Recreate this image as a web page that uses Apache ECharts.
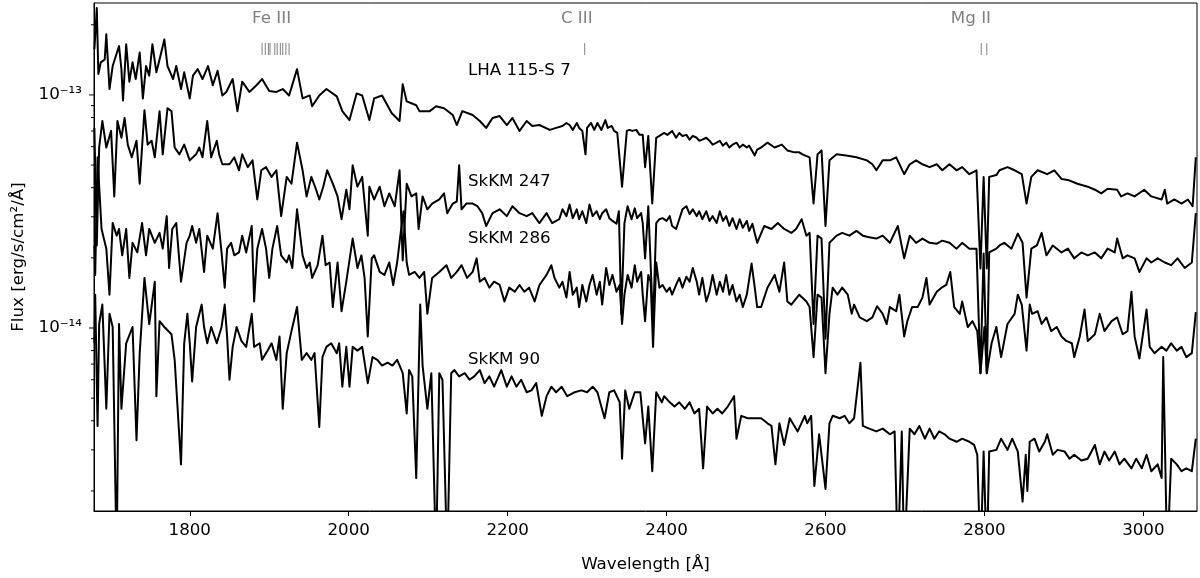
<!DOCTYPE html>
<html>
<head>
<meta charset="utf-8">
<title>UV spectra</title>
<script src="https://cdn.jsdelivr.net/npm/echarts@6/dist/echarts.min.js"></script>
<style>
  html, body { margin: 0; padding: 0; background: #fff; }
  #chart { width: 1200px; height: 578px; }
</style>
</head>
<body>
<div id="chart"></div>
<script>
// wavelength in Angstrom, flux in units of 1e-14 erg/s/cm2/A
const FLUX_UNIT = 1e-14;

const lha115s7 = [
  [1680,15.7],[1683,23.6],[1685,12.3],[1688,13.8],[1693,14.2],[1695,18.2],[1699,10.6],[1703,13.3],[1707,14.7],[1711,16.2],
  [1714,12.9],[1716,9.47],[1720,16.5],[1724,11.4],[1728,13.8],[1732,11.7],[1737,15.2],[1741,9.66],[1745,13.3],[1749,12.1],
  [1753,16.5],[1758,12.5],[1762,14.2],[1768,17.3],[1772,13.3],[1779,11.7],[1783,13.3],[1789,10.6],[1793,12.5],[1800,9.66],
  [1804,12.1],[1810,12.9],[1816,11.7],[1823,13.3],[1829,11.0],[1835,12.7],[1841,9.95],[1846,10.3],
  [1854,11.7],[1860,8.52],[1866,11.4],[1875,10.3],[1884,11.0],[1891,11.7],[1900,10.4],[1909,10.3],[1917,10.6],[1925,9.95],
  [1935,12.9],[1942,9.66],[1951,9.95],[1954,8.94],[1963,9.95],[1972,10.6],[1985,9.86],[1992,8.52],[2001,7.80],[2010,10.15],
  [2017,9.95],[2026,7.80],[2032,9.66],[2042,9.95],[2054,8.36],[2064,7.73],[2068,11.1],[2073,9.38],[2085,9.03],[2089,8.52],
  [2102,8.52],[2110,8.94],[2120,8.77],[2131,8.20],[2136,7.43],[2143,8.52],[2156,8.20],[2165,7.73],[2173,7.22],[2181,7.96],
  [2190,8.12],[2199,7.43],[2206,7.96],[2215,7.01],[2224,7.73],[2231,7.36],[2240,7.43],[2253,7.08],[2261,7.22],
  [2269,7.36],[2274,7.58],[2278,7.43],[2282,7.08],[2287,7.58],[2290,7.22],[2294,7.01],[2298,5.56],[2300,7.22],[2305,7.58],
  [2309,7.08],[2313,7.58],[2318,7.08],[2323,7.80],[2326,7.22],[2331,7.36],[2334,7.01],[2338,6.87],[2344,4.04],[2350,7.01],
  [2353,7.08],[2357,7.01],[2362,7.08],[2366,6.74],[2370,6.74],[2373,4.90],[2377,6.67],[2382,3.42],[2387,6.55],[2391,6.67],
  [2397,6.87],[2401,6.74],[2407,7.01],[2412,6.55],[2416,6.87],[2420,6.67],[2425,6.74],[2429,6.43],[2433,6.67],[2438,6.55],
  [2441,6.36],[2445,6.43],[2450,6.55],[2454,6.36],[2458,6.12],[2463,6.24],[2467,6.36],[2471,6.06],[2475,6.24],[2479,5.95],
  [2483,6.12],[2488,6.24],[2492,5.95],[2496,6.12],[2501,5.95],[2504,6.06],[2511,5.50],[2514,5.83],
  [2519,5.95],[2527,6.24],[2536,5.95],[2545,6.12],[2552,5.78],[2561,5.67],[2567,5.67],[2571,5.56],[2580,5.40],
  [2585,3.42],[2590,5.56],[2595,5.78],[2600,2.74],[2605,5.24],[2614,5.56],[2626,5.50],[2639,5.40],[2652,5.24],[2659,5.04],
  [2664,4.75],[2672,5.24],[2681,5.24],[2689,5.40],[2699,4.57],[2706,5.04],[2714,5.24],[2722,5.04],[2731,4.90],[2740,5.04],
  [2747,4.75],[2756,5.04],[2765,4.75],[2772,4.90],[2781,4.57],[2790,4.75],[2795,1.8],[2799,4.45],[2803,1.8],[2806,4.45],
  [2815,4.53],[2819,4.75],[2829,4.90],[2838,4.75],[2847,4.57],[2853,3.42],[2859,4.45],[2867,4.75],[2879,4.57],[2888,4.75],
  [2897,4.36],[2905,4.32],[2917,4.16],[2930,4.04],[2939,3.92],[2947,3.78],[2955,3.96],[2967,3.92],[2972,3.67],[2980,3.78],
  [2989,3.67],[3001,3.92],[3010,3.67],[3023,3.56],[3027,3.92],[3030,3.42],[3039,3.56],[3048,3.42],[3056,3.56],[3062,3.33],
  [3066,5.40]
];

const skkm247 = [
  [1680,7.22],[1683,2.26],[1686,5.95],[1690,7.73],[1695,5.95],[1701,7.01],[1705,3.67],[1709,7.73],[1714,6.55],[1718,7.96],
  [1722,6.12],[1727,5.40],[1733,6.36],[1737,4.16],[1743,8.6],[1747,6.12],[1752,6.36],[1756,5.40],[1762,8.52],[1766,5.56],
  [1772,8.77],[1777,8.52],[1781,5.95],[1787,5.56],[1793,6.12],[1800,5.24],[1808,5.56],[1812,5.95],[1816,5.40],[1822,7.73],
  [1827,5.40],[1834,6.36],[1837,5.56],[1841,5.04],[1850,5.04],[1856,5.40],[1862,4.75],[1866,5.56],[1873,4.90],[1879,5.24],
  [1885,3.56],[1890,4.75],[1896,4.90],[1903,4.45],[1909,4.75],[1915,3.02],[1922,4.45],[1928,4.16],[1935,6.24],[1942,4.75],
  [1947,3.67],[1953,4.45],[1959,3.92],[1963,3.56],[1968,4.04],[1973,4.75],[1980,4.16],[1986,3.67],[1991,2.93],[1997,3.92],
  [2001,3.23],[2005,4.99],[2011,4.04],[2017,4.45],[2024,2.49],[2026,4.04],[2032,3.56],[2039,4.04],[2045,3.33],[2051,3.78],
  [2058,3.33],[2064,4.75],[2068,1.95],[2073,4.16],[2079,3.67],[2085,3.78],[2088,2.66],[2093,3.67],[2099,3.23],[2105,3.42],
  [2114,3.56],[2120,3.78],[2124,3.11],[2131,3.42],[2136,3.49],[2139,4.99],[2142,3.23],[2148,3.42],[2156,3.42],[2162,3.33],
  [2168,3.11],[2173,2.74],[2181,3.11],[2190,3.23],[2199,3.02],[2206,3.33],[2215,3.11],[2224,3.02],[2231,3.11],[2240,2.82],
  [2249,3.11],[2256,2.82],
  [2265,2.93],[2269,3.23],[2274,3.02],[2278,3.39],[2282,2.96],[2287,3.23],[2290,2.93],[2294,3.17],[2299,2.82],[2303,3.39],
  [2307,3.02],[2312,3.17],[2316,2.93],[2319,3.11],[2324,3.23],[2328,2.96],[2332,2.88],[2337,2.80],[2340,3.17],[2343,1.15],
  [2347,2.82],[2351,3.33],[2356,2.93],[2360,3.26],[2363,2.96],[2368,3.11],[2370,2.82],[2373,1.99],[2377,3.33],[2383,1.04],
  [2387,2.82],[2391,2.93],[2395,2.96],[2400,2.88],[2404,3.02],[2407,2.74],[2412,2.66],[2416,2.93],[2420,3.23],[2425,3.33],
  [2429,3.08],[2433,3.23],[2438,3.02],[2441,3.17],[2445,2.93],[2450,3.17],[2454,2.88],[2458,3.02],[2463,2.82],[2467,3.17],
  [2471,2.88],[2475,3.02],[2479,2.74],[2483,2.96],[2488,2.66],[2492,2.93],[2496,2.69],[2501,2.88],[2504,2.61],[2508,2.80],
  [2514,2.32],
  [2523,2.74],[2532,2.66],[2540,2.82],[2548,2.66],[2557,2.56],[2563,2.66],[2570,2.93],[2576,2.49],[2580,2.56],[2585,1.04],[2590,2.49],
  [2595,2.42],[2600,0.90],[2605,2.32],[2614,2.49],[2621,2.56],[2630,2.49],[2639,2.61],[2647,2.49],[2655,2.45],[2664,2.42],
  [2672,2.49],[2681,2.32],[2691,2.74],[2699,1.99],[2706,2.49],[2714,2.32],[2722,2.42],[2731,2.32],[2740,2.30],[2747,2.37],
  [2756,2.32],[2765,2.19],[2772,2.32],[2781,2.19],[2790,2.19],[2795,0.64],[2799,2.09],[2803,0.64],[2806,2.11],[2815,2.19],
  [2819,2.26],[2825,2.32],[2834,2.19],[2842,2.54],[2848,2.32],[2853,1.35],[2859,2.19],[2866,2.26],[2872,2.56],[2878,2.05],
  [2886,2.26],[2897,2.11],[2905,2.19],[2913,1.99],[2922,2.11],[2930,2.05],[2939,2.11],[2947,1.99],[2955,2.19],[2964,2.11],
  [2967,2.42],[2974,1.99],[2980,2.05],[2989,1.99],[2995,1.74],[3004,1.99],[3010,1.91],[3018,1.99],[3027,1.91],[3035,1.86],
  [3043,1.99],[3052,1.81],[3061,1.91],[3066,3.11]
];

const skkm286 = [
  [1680,2.26],[1681,1.69],[1684,5.40],[1689,2.66],[1695,2.19],[1699,1.39],[1703,2.82],[1708,2.49],[1711,2.66],[1715,2.05],
  [1720,2.66],[1724,1.64],[1728,2.32],[1734,2.11],[1740,2.82],[1745,2.05],[1749,2.66],[1756,2.32],[1762,2.56],[1766,2.19],
  [1771,3.02],[1774,1.81],[1778,2.66],[1783,2.82],[1789,1.58],[1796,2.32],[1800,2.49],[1803,2.74],[1808,2.32],[1812,2.66],
  [1818,1.74],[1822,2.49],[1829,2.19],[1835,3.11],[1840,2.11],[1844,1.49],[1847,2.19],[1852,2.32],[1856,2.05],[1862,2.11],
  [1866,2.49],[1871,2.11],[1878,2.74],[1881,1.30],[1885,2.19],[1891,2.66],[1896,2.19],[1900,1.64],[1904,2.19],[1910,2.74],
  [1915,2.05],[1922,1.91],[1925,2.05],[1929,1.81],[1935,3.23],[1942,2.05],[1947,1.81],[1951,1.91],[1954,1.64],[1961,1.86],
  [1967,2.49],[1971,1.86],[1976,1.91],[1980,1.23],[1986,1.91],[1991,1.18],[1997,1.58],[2005,2.42],[2011,1.81],[2016,2.05],
  [2020,1.64],[2024,0.92],[2029,1.99],[2032,2.05],[2039,1.74],[2045,1.69],[2051,1.91],[2056,1.53],[2061,1.91],[2065,2.49],
  [2069,3.17],[2073,1.91],[2076,1.69],[2083,1.74],[2089,1.64],[2095,1.74],[2099,1.15],[2105,1.64],[2114,1.74],[2123,1.86],
  [2129,1.64],[2136,1.74],[2142,1.86],[2149,1.64],[2156,1.74],[2161,1.99],[2165,1.58],[2171,1.64],[2177,1.49],[2183,1.58],
  [2190,1.53],[2196,1.30],[2202,1.49],[2209,1.43],[2215,1.53],[2221,1.43],[2227,1.49],[2234,1.30],[2240,1.53],[2249,1.69],
  [2255,1.86],[2259,1.64],
  [2265,1.49],[2269,1.58],[2274,1.35],[2278,1.74],[2282,1.39],[2287,1.49],[2290,1.23],[2294,1.53],[2299,1.30],[2303,1.53],
  [2307,1.69],[2312,1.39],[2316,1.58],[2319,1.26],[2324,1.81],[2328,1.53],[2332,1.69],[2337,1.43],[2341,1.53],[2344,1.04],
  [2347,1.39],[2351,1.69],[2356,1.49],[2360,1.86],[2363,1.58],[2368,1.74],[2370,1.39],[2373,1.07],[2377,1.69],[2380,1.58],
  [2383,0.83],[2387,1.91],[2391,1.49],[2395,1.53],[2400,1.43],[2404,1.49],[2407,1.39],[2412,1.53],[2416,1.64],[2420,1.49],
  [2425,1.66],[2429,1.58],[2433,1.81],[2438,1.58],[2441,1.39],[2445,1.64],[2450,1.30],[2454,1.43],[2458,1.69],[2463,1.39],
  [2467,1.58],[2471,1.43],[2475,1.69],[2479,1.39],[2483,1.53],[2488,1.30],[2492,1.39],[2496,1.23],[2501,1.39],[2507,1.89],
  [2511,1.49],[2514,1.23],
  [2519,1.23],[2527,1.49],[2536,1.69],[2542,1.43],[2548,1.91],[2552,1.30],
  [2557,1.26],[2567,1.39],[2576,1.30],[2580,1.23],[2585,0.75],[2590,1.39],[2595,1.35],[2600,0.64],[2605,1.15],[2609,1.49],
  [2615,1.39],[2621,1.49],[2628,1.39],[2633,1.15],[2636,1.26],[2643,1.11],[2652,1.07],[2659,1.11],[2665,1.24],[2672,1.15],
  [2677,1.04],[2681,1.23],[2689,1.18],[2693,1.39],[2699,0.92],[2703,1.07],[2709,1.23],[2716,1.23],[2722,1.35],[2727,1.64],
  [2731,1.26],[2740,1.43],[2746,1.49],[2752,1.53],[2757,1.74],[2762,1.23],[2769,1.15],[2772,1.30],[2779,1.01],[2785,1.07],
  [2791,0.97],[2795,0.64],[2800,1.01],[2803,0.64],[2809,0.86],[2815,1.01],[2821,0.75],[2829,1.04],[2838,1.15],[2842,1.39],
  [2847,1.26],[2853,0.80],[2857,1.26],[2860,1.15],[2867,1.18],[2872,1.04],[2878,1.11],[2884,0.97],[2891,1.01],[2897,0.92],
  [2903,0.88],[2910,0.86],[2913,0.75],[2920,0.92],[2926,1.20],[2930,0.88],[2939,0.94],[2945,1.15],[2951,0.97],[2960,1.07],
  [2967,1.11],[2974,0.94],[2980,0.97],[2985,1.43],[2989,0.92],[2995,0.74],[3004,1.20],[3008,0.83],[3014,0.78],[3023,0.83],
  [3029,0.80],[3035,0.86],[3042,0.80],[3048,0.83],[3054,0.75],[3061,0.78],[3066,1.17]
];

const skkm90 = [
  [1680,0.86],[1681,1.39],[1684,0.38],[1686,1.04],[1690,1.26],[1695,0.45],[1699,1.15],[1703,1.01],[1708,0.1],[1711,1.04],
  [1714,0.45],[1720,0.86],[1728,1.01],[1733,0.33],[1737,0.78],[1743,1.64],[1749,1.04],[1756,1.58],[1758,0.51],[1762,1.07],
  [1768,1.01],[1777,0.94],[1781,0.73],[1789,0.26],[1793,0.86],[1797,1.15],[1800,0.86],[1803,0.59],[1808,1.01],[1815,1.26],
  [1818,1.01],[1822,0.86],[1827,1.01],[1834,0.86],[1840,1.01],[1844,1.26],[1847,0.92],[1850,0.60],[1854,0.83],[1859,1.01],
  [1865,0.88],[1871,0.83],[1878,1.15],[1881,0.83],[1888,0.86],[1891,0.73],[1898,0.80],[1903,0.86],[1909,0.73],[1913,0.92],
  [1917,0.45],[1922,0.78],[1928,0.97],[1935,1.23],[1941,0.73],[1947,0.78],[1953,0.73],[1957,0.78],[1963,0.376],[1967,0.75],
  [1972,0.83],[1978,0.86],[1985,0.78],[1988,0.86],[1992,0.56],[1997,0.83],[2001,0.56],[2005,0.83],[2011,0.80],[2017,0.83],
  [2024,0.58],[2030,0.75],[2036,0.73],[2042,0.69],[2049,0.71],[2055,0.69],[2061,0.73],[2068,0.64],[2073,0.43],[2076,0.66],
  [2080,0.62],[2085,0.227],[2090,1.26],[2093,0.69],[2099,0.45],[2104,0.64],[2110,0.1],[2114,0.64],[2118,0.60],[2124,0.1],
  [2129,0.64],[2133,0.66],[2139,0.62],[2146,0.64],[2152,0.60],[2158,0.62],[2165,0.66],[2171,0.58],[2177,0.62],[2183,0.56],
  [2192,0.66],[2199,0.56],[2205,0.62],[2211,0.56],[2217,0.60],[2224,0.53],[2230,0.54],[2236,0.58],[2243,0.42],[2249,0.51],
  [2255,0.56],[2261,0.53],[2268,0.56],[2275,0.51],[2284,0.53],[2293,0.54],[2300,0.53],[2307,0.56],[2313,0.53],[2322,0.41],
  [2328,0.53],[2334,0.54],[2341,0.48],[2344,0.275],[2348,0.54],[2353,0.45],[2360,0.53],[2367,0.53],[2373,0.32],[2377,0.46],
  [2382,0.243],[2387,0.53],[2394,0.48],[2397,0.51],[2404,0.48],[2410,0.46],[2416,0.48],[2423,0.45],[2429,0.48],[2435,0.43],
  [2441,0.45],[2446,0.25],[2451,0.46],[2458,0.43],[2464,0.45],[2470,0.43],[2477,0.46],[2485,0.51],[2488,0.335],[2494,0.42],
  [2502,0.41],[2511,0.41],[2519,0.41],[2527,0.39],[2532,0.38],[2537,0.26],[2542,0.39],[2548,0.315],[2555,0.41],[2565,0.36],
  [2574,0.42],[2577,0.39],[2582,0.42],[2586,0.21],[2592,0.35],[2600,0.204],[2605,0.39],[2609,0.42],[2618,0.41],[2624,0.42],
  [2630,0.39],[2636,0.41],[2644,0.71],[2647,0.38],[2655,0.37],[2664,0.36],[2672,0.37],[2681,0.35],[2687,0.36],[2691,0.1],
  [2696,0.36],[2699,0.1],[2706,0.37],[2712,0.35],[2718,0.38],[2725,0.335],[2731,0.37],[2737,0.335],[2743,0.36],[2750,0.35],
  [2756,0.335],[2765,0.325],[2772,0.335],[2781,0.325],[2787,0.315],[2791,0.286],[2795,0.1],[2799,0.295],[2803,0.1],[2806,0.295],
  [2815,0.30],[2821,0.335],[2829,0.30],[2835,0.335],[2842,0.295],[2848,0.18],[2852,0.286],[2854,0.20],[2857,0.325],[2863,0.335],
  [2869,0.295],[2876,0.325],[2879,0.35],[2886,0.286],[2892,0.30],[2901,0.295],[2907,0.275],[2913,0.286],[2922,0.27],[2930,0.275],
  [2939,0.315],[2945,0.26],[2951,0.295],[2957,0.27],[2964,0.295],[2970,0.26],[2976,0.275],[2985,0.25],[2991,0.275],[2998,0.25],
  [3004,0.286],[3010,0.243],[3018,0.26],[3023,0.227],[3025,0.75],[3030,0.1],[3035,0.275],[3042,0.26],[3048,0.243],[3054,0.25],
  [3061,0.243],[3066,0.335]
];

// star names, placed at (wavelength, flux)
const starNames = ['LHA 115-S 7', 'SkKM 247', 'SkKM 286', 'SkKM 90'];
const starLabelPos = [[2150, 12.7], [2150, 4.24], [2150, 2.42], [2150, 0.735]];

// ion line markers at the top
const ionNames = ['Fe III', 'C III', 'Mg II'];
const ionNamePos = [1903, 2287, 2783];
const ionLines = [1891, 1895, 1899, 1901, 1907, 1910, 1914, 1917, 1921, 1925, 2297, 2796, 2803];

// axes
const xTicks = [1800, 2000, 2200, 2400, 2600, 2800, 3000];
const yMajorTicks = [1e-14, 1e-13];
const yMinorTicks = [2e-15, 3e-15, 4e-15, 5e-15, 6e-15, 7e-15, 8e-15, 9e-15,
  2e-14, 3e-14, 4e-14, 5e-14, 6e-14, 7e-14, 8e-14, 9e-14, 2e-13];

const X_MIN = 1679.5, X_MAX = 3067.5;
const Y_MIN = 1.64e-15, Y_MAX = 2.48e-13;
const FONT = '"DejaVu Sans", sans-serif';
const FS = 16.7;

const SUP = { '-': '\u207b', '0': '\u2070', '1': '\u00b9', '2': '\u00b2', '3': '\u00b3',
  '4': '\u2074', '5': '\u2075', '6': '\u2076', '7': '\u2077', '8': '\u2078', '9': '\u2079' };

function powLabel(v) {
  const e = Math.log10(v);
  if (Math.abs(e - Math.round(e)) > 1e-6) return '';
  return '10' + String(Math.round(e)).split('').map(c => SUP[c]).join('');
}

function spectrum(arr) {
  return {
    type: 'line',
    data: arr.map(p => [p[0], p[1] * FLUX_UNIT]),
    symbol: 'none',
    showSymbol: false,
    clip: true,
    silent: true,
    lineStyle: { color: '#000', width: 2, join: 'round' },
    z: 2
  };
}

let myChart = echarts.init(document.getElementById('chart'), null, { renderer: 'canvas' });

const option = {
  animation: false,
  backgroundColor: '#fff',
  grid: { left: 94, right: 3, top: 3, bottom: 58.5, show: true, borderColor: '#000', borderWidth: 1, backgroundColor: 'transparent' },
  xAxis: {
    type: 'value',
    min: X_MIN,
    max: X_MAX,
    splitNumber: 7,
    name: 'Wavelength [Å]',
    nameLocation: 'middle',
    nameGap: 45,
    nameTextStyle: { fontFamily: FONT, fontSize: FS, color: '#000' },
    axisLine: { show: true, onZero: false, lineStyle: { color: '#000', width: 1 } },
    axisTick: { show: true, customValues: xTicks, length: 5, lineStyle: { color: '#000', width: 1 } },
    axisLabel: {
      customValues: xTicks,
      margin: 11,
      fontFamily: FONT,
      fontSize: FS,
      color: '#000',
      formatter: v => (v % 200 === 0 ? String(v) : '')
    },
    splitLine: { show: false }
  },
  yAxis: {
    type: 'log',
    logBase: 10,
    min: Y_MIN,
    max: Y_MAX,
    name: 'Flux [erg/s/cm²/Å]',
    nameLocation: 'middle',
    nameGap: 67,
    nameTextStyle: { fontFamily: FONT, fontSize: FS, color: '#000' },
    axisLine: { show: true, lineStyle: { color: '#000', width: 1 } },
    axisTick: { show: false },
    axisLabel: { margin: 12, fontFamily: FONT, fontSize: FS, color: '#000', formatter: powLabel },
    splitLine: { show: false },
    minorTick: { show: false }
  },
  series: [
    spectrum(lha115s7),
    spectrum(skkm247),
    spectrum(skkm286),
    spectrum(skkm90),
    {
      // y axis ticks, major and minor (log style)
      type: 'custom',
      silent: true,
      z: 5,
      data: yMajorTicks.map(v => [X_MIN, v, 5]).concat(yMinorTicks.map(v => [X_MIN, v, 3])),
      renderItem: function (params, api) {
        const p = api.coord([api.value(0), api.value(1)]);
        const len = api.value(2);
        return {
          type: 'line',
          shape: { x1: p[0] - len, y1: p[1], x2: p[0], y2: p[1] },
          style: { stroke: '#000', lineWidth: 1 }
        };
      }
    },
    {
      // ion line markers
      type: 'custom',
      silent: true,
      z: 4,
      data: ionLines.map(w => [w, Y_MAX]),
      renderItem: function (params, api) {
        const p = api.coord([api.value(0), api.value(1)]);
        return {
          type: 'line',
          shape: { x1: p[0], y1: p[1] + 40, x2: p[0], y2: p[1] + 52 },
          style: { stroke: '#808080', lineWidth: 1 }
        };
      }
    },
    {
      // ion names
      type: 'custom',
      silent: true,
      z: 4,
      data: ionNamePos.map(w => [w, Y_MAX]),
      renderItem: function (params, api) {
        const p = api.coord([api.value(0), api.value(1)]);
        return {
          type: 'text',
          x: p[0],
          y: p[1] + 16,
          style: {
            text: ionNames[params.dataIndex],
            fill: '#808080',
            fontFamily: FONT,
            fontSize: FS,
            align: 'center',
            verticalAlign: 'middle'
          }
        };
      }
    },
    {
      // star names
      type: 'custom',
      silent: true,
      z: 6,
      data: starLabelPos.map(p => [p[0], p[1] * FLUX_UNIT]),
      renderItem: function (params, api) {
        const p = api.coord([api.value(0), api.value(1)]);
        return {
          type: 'text',
          x: p[0],
          y: p[1],
          style: {
            text: starNames[params.dataIndex],
            fill: '#000',
            fontFamily: FONT,
            fontSize: FS,
            align: 'left',
            verticalAlign: 'middle'
          }
        };
      }
    }
  ]
};

myChart.setOption(option);
</script>
</body>
</html>
